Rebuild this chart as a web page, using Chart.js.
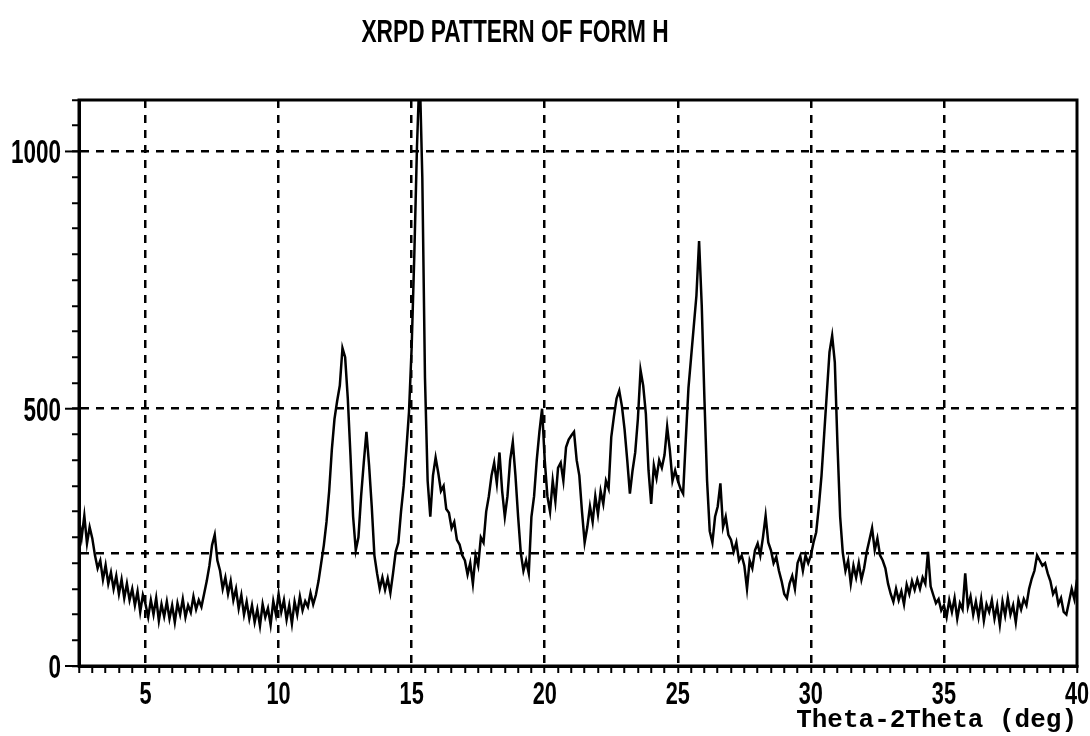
<!DOCTYPE html>
<html>
<head>
<meta charset="utf-8">
<title>XRPD pattern of Form H</title>
<script src="https://cdn.jsdelivr.net/npm/chart.js@4.4.0/dist/chart.umd.min.js"></script>
<style>
  body { margin: 0; background: #fff; }
  .wrap { position: relative; width: 1090px; height: 736px; }
  #title {
    position: absolute; top: 13px; left: 0; width: 1030px;
    text-align: center; color: #000;
    font: bold 32px 'Liberation Sans', Arial, sans-serif;
    transform: scaleX(0.71);
  }
</style>
</head>
<body>
<div class="wrap">
  <div id="title">XRPD PATTERN OF FORM H</div>
  <canvas id="xrpdChart" width="1090" height="736"></canvas>
</div>
<script>
// 2-theta scan: first angle and step of the intensity list
var angleStart = 2.5;
var angleStep = 0.1;

// counts, one row per degree
var intensity = [
  285, 250, 292, 238, 270,                                // 2.5
  248, 215, 190, 205, 168, 196, 160, 182, 150, 175,       // 3
  140, 168, 132, 160, 128, 150, 118, 145, 105, 138,       // 4
  120, 95, 128, 100, 132, 88, 120, 96, 125, 92,           // 5
  118, 85, 122, 100, 130, 95, 118, 104, 135, 110,         // 6
  128, 115, 140, 165, 195, 235, 255, 205, 185, 150,       // 7
  172, 140, 165, 128, 150, 112, 138, 100, 125, 92,        // 8
  118, 85, 110, 78, 120, 95, 112, 80, 126, 100,           // 9
  140, 105, 128, 90, 118, 82, 125, 100, 135, 108,         // 10
  126, 115, 142, 120, 138, 165, 200, 235, 280, 340,       // 11
  420, 480, 515, 545, 618, 600, 520, 410, 290, 225,       // 12
  250, 330, 395, 455, 390, 310, 215, 180, 150, 172,       // 13
  148, 170, 142, 180, 222, 240, 300, 350, 420, 494,       // 14
  620, 800, 1010, 1160, 950, 560, 360, 290, 370, 405,     // 15
  375, 340, 350, 305, 298, 268, 280, 245, 236, 215,       // 16
  205, 178, 200, 160, 215, 195, 250, 240, 300, 330,       // 17
  370, 395, 355, 415, 340, 290, 330, 400, 435, 370,       // 18
  290, 220, 185, 205, 180, 290, 330, 400, 455, 500,       // 19
  400, 330, 300, 360, 320, 385, 395, 360, 425, 440,       // 20
  448, 455, 400, 370, 300, 240, 270, 310, 280, 330,       // 21
  295, 340, 315, 360, 345, 445, 485, 520, 535, 505,       // 22
  460, 400, 335, 380, 415, 480, 575, 545, 490, 380,       // 23
  315, 390, 365, 400, 385, 410, 465, 420, 360, 380,       // 24
  360, 345, 335, 440, 540, 600, 660, 720, 826, 700,       // 25
  520, 360, 262, 240, 290, 310, 355, 270, 290, 255,       // 26
  245, 222, 240, 205, 215, 195, 150, 205, 190, 225,       // 27
  238, 215, 250, 292, 240, 225, 200, 212, 185, 165,       // 28
  140, 132, 160, 175, 150, 200, 214, 185, 215, 200,       // 29
  215, 240, 260, 310, 370, 450, 530, 610, 642, 590,       // 30
  430, 290, 220, 185, 205, 160, 195, 172, 200, 168,       // 31
  190, 222, 245, 268, 225, 248, 215, 205, 190, 160,       // 32
  140, 125, 150, 128, 145, 120, 158, 140, 165, 148,       // 33
  168, 150, 172, 160, 222, 155, 138, 122, 130, 108,       // 34
  118, 95, 128, 105, 132, 92, 122, 110, 180, 115,         // 35
  135, 100, 125, 95, 130, 88, 120, 105, 128, 92,          // 36
  118, 80, 125, 98, 132, 100, 118, 85, 128, 110,          // 37
  130, 118, 150, 170, 185, 215, 205, 195, 200, 180,       // 38
  165, 140, 150, 120, 132, 105, 100, 125, 150, 130,       // 39
  168                                                     // 40
];

// axis ranges and tick spacing
var xMin = 2.5, xMax = 40, xLabelStep = 5, xMinorStep = 0.5;
var yMin = 0, yMax = 1100, yLabelStep = 500, yMinorStep = 50;
var baseline = 220; // dashed background level

var points = intensity.map(function (v, i) {
    return { x: +(angleStart + i * angleStep).toFixed(2), y: v };
});

function steps(from, to, step) {
    var out = [];
    var n = Math.round((to - from) / step);
    for (var i = 0; i <= n; i++) out.push(+(from + i * step).toFixed(2));
    return out;
}
function multipleOf(v, step) {
    return Math.abs(v / step - Math.round(v / step)) < 1e-6;
}

var xTicks = steps(xMin, xMax, xMinorStep);
var yTicks = steps(yMin, yMax, yMinorStep).concat([baseline]).sort(function (a, b) { return a - b; });
var xLabels = xTicks.filter(function (v) { return multipleOf(v, xLabelStep); });
var yLabels = yTicks.filter(function (v) { return v !== baseline && multipleOf(v, yLabelStep); });

var labelFont = "'Liberation Sans', Arial, sans-serif";

// closes the plot box on the top and right
var frame = {
    id: 'frame',
    afterDatasetsDraw: function (chart) {
        var ctx = chart.ctx, a = chart.chartArea;
        ctx.save();
        ctx.strokeStyle = '#000';
        ctx.lineWidth = 3;
        ctx.strokeRect(a.left, a.top, a.right - a.left, a.bottom - a.top);
        ctx.restore();
    }
};

// tick numbers in a condensed face, placed from the scales
function narrowText(ctx, text, x, y, align, squeeze) {
    ctx.save();
    ctx.translate(x, y);
    ctx.scale(squeeze, 1);
    ctx.textAlign = align;
    ctx.fillText(text, 0, 0);
    ctx.restore();
}
var condensedLabels = {
    id: 'condensedLabels',
    afterDraw: function (chart) {
        var ctx = chart.ctx, xs = chart.scales.x, ys = chart.scales.y;
        ctx.save();
        ctx.fillStyle = '#000';
        ctx.strokeStyle = '#000';
        ctx.lineWidth = 2;
        ctx.textBaseline = 'alphabetic';
        ctx.font = 'bold 31px ' + labelFont;
        xLabels.forEach(function (v) {
            narrowText(ctx, String(v), xs.getPixelForValue(v), xs.top + 38, 'center', 0.7);
        });
        ctx.font = 'bold 34px ' + labelFont;
        yLabels.forEach(function (v) {
            var y = ys.getPixelForValue(v);
            narrowText(ctx, String(v), ys.right - 18, y + 12, 'right', 0.66);
            // labelled values get a longer tick
            ctx.beginPath();
            ctx.moveTo(ys.right - 14, y);
            ctx.lineTo(ys.right, y);
            ctx.stroke();
        });
        ctx.restore();
    }
};

var ctx = document.getElementById('xrpdChart').getContext('2d');
var chart = new Chart(ctx, {
    type: 'line',
    data: {
        datasets: [{
            label: 'Form H',
            data: points,
            borderColor: '#000',
            borderWidth: 2.5,
            pointRadius: 0,
            tension: 0
        }]
    },
    options: {
        responsive: false,
        devicePixelRatio: 1,
        animation: false,
        events: [],
        layout: { padding: { top: 100, right: 13, left: 0, bottom: 0 } },
        plugins: {
            legend: { display: false },
            tooltip: { enabled: false }
        },
        scales: {
            x: {
                type: 'linear',
                min: xMin,
                max: xMax,
                afterBuildTicks: function (axis) {
                    axis.ticks = xTicks.map(function (v) { return { value: v }; });
                },
                afterFit: function (axis) { axis.height = 70; },
                ticks: {
                    autoSkip: false,
                    maxRotation: 0,
                    callback: function () { return ''; }
                },
                grid: {
                    color: function (c) {
                        var v = c.tick ? c.tick.value : 0;
                        return multipleOf(v, xLabelStep) && v > xMin && v < xMax ? '#000' : 'rgba(0,0,0,0)';
                    },
                    lineWidth: 2.5,
                    tickColor: '#000',
                    tickWidth: 2,
                    tickLength: 7
                },
                border: { color: '#000', width: 3, dash: [8, 7] },
                title: {
                    display: true,
                    text: 'Theta-2Theta (deg)',
                    align: 'end',
                    color: '#000',
                    padding: { top: 0, bottom: 0 },
                    font: { family: "'Liberation Mono', 'DejaVu Sans Mono', monospace", size: 26, weight: 'bold' }
                }
            },
            y: {
                min: yMin,
                max: yMax,
                afterBuildTicks: function (axis) {
                    axis.ticks = yTicks.map(function (v) { return { value: v }; });
                },
                afterFit: function (axis) { axis.width = 79; },
                ticks: {
                    autoSkip: false,
                    callback: function () { return ''; }
                },
                grid: {
                    color: function (c) {
                        var v = c.tick ? c.tick.value : 0;
                        return v > yMin && (v === baseline || multipleOf(v, yLabelStep)) ? '#000' : 'rgba(0,0,0,0)';
                    },
                    lineWidth: 2.5,
                    tickColor: function (c) {
                        return c.tick && c.tick.value === baseline ? 'rgba(0,0,0,0)' : '#000';
                    },
                    tickWidth: 2,
                    tickLength: 7
                },
                border: { color: '#000', width: 3, dash: [8, 7] }
            }
        }
    },
    plugins: [frame, condensedLabels]
});
</script>
</body>
</html>
